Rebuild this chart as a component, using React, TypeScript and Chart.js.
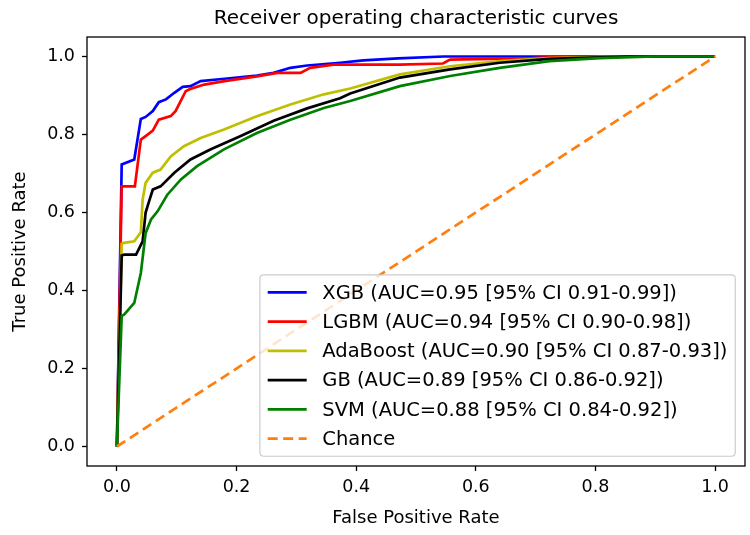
import React, { useEffect, useRef } from "react";
import { Chart, registerables } from "chart.js";

Chart.register(...registerables);

const FONT = '"DejaVu Sans", sans-serif';

const chartTitle = "Receiver operating characteristic curves";
const xAxisLabel = "False Positive Rate";
const yAxisLabel = "True Positive Rate";
const tickValues = [0, 0.2, 0.4, 0.6, 0.8, 1.0];

const seriesLabels = [
  "XGB (AUC=0.95 [95% CI 0.91-0.99])",
  "LGBM (AUC=0.94 [95% CI 0.90-0.98])",
  "AdaBoost (AUC=0.90 [95% CI 0.87-0.93])",
  "GB (AUC=0.89 [95% CI 0.86-0.92])",
  "SVM (AUC=0.88 [95% CI 0.84-0.92])",
];
const chanceLabel = "Chance";
const seriesColors = ["#0000ff", "#ff0000", "#bfbf00", "#000000", "#008000"];
const chanceColor = "#ff7f0e";

const xgbFpr = [0, 0.008, 0.029, 0.04, 0.048, 0.06, 0.07, 0.082, 0.096, 0.11, 0.123, 0.14, 0.18, 0.234, 0.262, 0.29, 0.318, 0.373, 0.412, 0.47, 0.546, 0.65, 0.8, 1.0];
const xgbTpr = [0, 0.723, 0.736, 0.84, 0.845, 0.86, 0.883, 0.89, 0.907, 0.922, 0.924, 0.937, 0.943, 0.951, 0.958, 0.971, 0.977, 0.984, 0.99, 0.995, 1.0, 1.0, 1.0, 1.0];

const lgbmFpr = [0, 0.008, 0.03, 0.04, 0.048, 0.06, 0.07, 0.09, 0.098, 0.115, 0.123, 0.146, 0.18, 0.234, 0.268, 0.307, 0.323, 0.362, 0.473, 0.545, 0.557, 0.695, 0.75, 1.0];
const lgbmTpr = [0, 0.667, 0.667, 0.787, 0.796, 0.81, 0.838, 0.847, 0.86, 0.911, 0.917, 0.928, 0.937, 0.949, 0.958, 0.958, 0.971, 0.979, 0.979, 0.982, 0.992, 0.996, 1.0, 1.0];

const adaFpr = [0, 0.008, 0.012, 0.029, 0.04, 0.043, 0.048, 0.06, 0.073, 0.09, 0.112, 0.14, 0.179, 0.234, 0.29, 0.346, 0.39, 0.473, 0.557, 0.64, 0.723, 0.85, 1.0];
const adaTpr = [0, 0.52, 0.522, 0.526, 0.549, 0.633, 0.676, 0.702, 0.71, 0.744, 0.77, 0.791, 0.813, 0.847, 0.877, 0.903, 0.918, 0.954, 0.975, 0.988, 0.996, 1.0, 1.0];

const gbFpr = [0, 0.008, 0.012, 0.032, 0.043, 0.048, 0.054, 0.06, 0.073, 0.096, 0.123, 0.157, 0.207, 0.262, 0.318, 0.373, 0.39, 0.473, 0.557, 0.64, 0.723, 0.85, 1.0];
const gbTpr = [0, 0.49, 0.492, 0.492, 0.526, 0.6, 0.63, 0.659, 0.667, 0.702, 0.736, 0.762, 0.796, 0.835, 0.867, 0.893, 0.905, 0.946, 0.967, 0.984, 0.994, 1.0, 1.0];

const svmFpr = [0, 0.008, 0.012, 0.029, 0.04, 0.048, 0.057, 0.068, 0.084, 0.107, 0.134, 0.179, 0.234, 0.29, 0.346, 0.39, 0.473, 0.557, 0.64, 0.723, 0.807, 0.9, 1.0];
const svmTpr = [0, 0.335, 0.338, 0.368, 0.445, 0.547, 0.582, 0.603, 0.645, 0.685, 0.719, 0.762, 0.804, 0.838, 0.868, 0.886, 0.924, 0.95, 0.971, 0.988, 0.996, 1.0, 1.0];

const chanceFpr = [0, 1];
const chanceTpr = [0, 1];

const seriesFpr = [xgbFpr, lgbmFpr, adaFpr, gbFpr, svmFpr];
const seriesTpr = [xgbTpr, lgbmTpr, adaTpr, gbTpr, svmTpr];

const toPoints = (xs: number[], ys: number[]) => xs.map((x, i) => ({ x, y: ys[i] }));

const overlayPlugin = {
  id: "overlay",
  afterDatasetsDraw(chart: any) {
    const { ctx, chartArea: a } = chart;
    ctx.save();
    // frame
    ctx.strokeStyle = "#000";
    ctx.lineWidth = 1.3;
    ctx.setLineDash([]);
    ctx.strokeRect(a.left, a.top, a.right - a.left, a.bottom - a.top);

    // legend
    const fs = 19.5;
    ctx.font = `${fs}px ${FONT}`;
    const ds = chart.data.datasets;
    const maxW = Math.max(...ds.map((d: any) => ctx.measureText(d.label).width));
    const pad = 0.4 * fs;
    const handle = 2 * fs;
    const gap = 0.8 * fs;
    const rowH = 1.5 * fs;
    const axPad = 0.5 * fs;
    const w = pad * 2 + handle + gap + maxW;
    const h = pad * 2 + ds.length * rowH - 0.5 * fs;
    const right = a.right - axPad;
    const bottom = a.bottom - axPad;
    const left = right - w;
    const top = bottom - h;
    const r = 4;
    ctx.beginPath();
    ctx.moveTo(left + r, top);
    ctx.lineTo(right - r, top);
    ctx.quadraticCurveTo(right, top, right, top + r);
    ctx.lineTo(right, bottom - r);
    ctx.quadraticCurveTo(right, bottom, right - r, bottom);
    ctx.lineTo(left + r, bottom);
    ctx.quadraticCurveTo(left, bottom, left, bottom - r);
    ctx.lineTo(left, top + r);
    ctx.quadraticCurveTo(left, top, left + r, top);
    ctx.closePath();
    ctx.fillStyle = "rgba(255,255,255,0.8)";
    ctx.fill();
    ctx.strokeStyle = "#cccccc";
    ctx.lineWidth = 1.2;
    ctx.stroke();

    ds.forEach((d: any, i: number) => {
      const cy = top + pad + fs / 2 + i * rowH;
      ctx.beginPath();
      ctx.setLineDash(d.borderDash || []);
      ctx.strokeStyle = d.borderColor;
      ctx.lineWidth = d.borderWidth;
      ctx.moveTo(left + pad, cy);
      ctx.lineTo(left + pad + handle, cy);
      ctx.stroke();
      ctx.setLineDash([]);
      ctx.fillStyle = "#000";
      ctx.textAlign = "left";
      ctx.textBaseline = "middle";
      ctx.fillText(d.label, left + pad + handle + gap, cy + 1);
    });

    // title
    ctx.font = `20px ${FONT}`;
    ctx.fillStyle = "#000";
    ctx.textAlign = "center";
    ctx.textBaseline = "alphabetic";
    ctx.fillText(chartTitle, (a.left + a.right) / 2, 24);
    ctx.restore();
  },
};

export default function App() {
  const canvasRef = useRef<HTMLCanvasElement | null>(null);

  useEffect(() => {
    document.body.style.margin = "0";
    const canvas = canvasRef.current;
    if (!canvas) return;

    const datasets: any[] = seriesLabels.map((label, i) => ({
      label,
      data: toPoints(seriesFpr[i], seriesTpr[i]),
      borderColor: seriesColors[i],
      backgroundColor: seriesColors[i],
      borderWidth: 2.7,
      pointRadius: 0,
      tension: 0,
      fill: false,
      order: 10 - i,
    }));
    datasets.push({
      label: chanceLabel,
      data: toPoints(chanceFpr, chanceTpr),
      borderColor: chanceColor,
      backgroundColor: chanceColor,
      borderWidth: 2.7,
      borderDash: [10, 5.5],
      pointRadius: 0,
      tension: 0,
      fill: false,
      order: 1,
    });

    const tickFont = { family: FONT, size: 17.5 };
    const labelFont = { family: FONT, size: 18 };

    const chart = new Chart(canvas, {
      type: "line",
      data: { datasets },
      options: {
        responsive: false,
        animation: false,
        devicePixelRatio: 1,
        layout: { padding: { top: 37, right: 5, left: 0, bottom: 0 } },
        plugins: {
          legend: { display: false },
          tooltip: { enabled: false },
          title: { display: false },
        },
        scales: {
          x: {
            type: "linear",
            min: -0.05,
            max: 1.05,
            afterFit: (s: any) => {
              s.height = 69;
            },
            afterBuildTicks: (s: any) => {
              s.ticks = tickValues.map((v) => ({ value: v }));
            },
            ticks: {
              callback: (v: any) => Number(v).toFixed(1),
              font: tickFont,
              color: "#000",
              padding: 6,
              maxRotation: 0,
              autoSkip: false,
            },
            grid: {
              drawOnChartArea: false,
              drawTicks: true,
              tickLength: 5,
              tickColor: "#000",
              tickWidth: 1.3,
            },
            border: { display: false },
            title: {
              display: true,
              text: xAxisLabel,
              font: labelFont,
              color: "#000",
              padding: { top: 0, bottom: 6 },
            },
          },
          y: {
            type: "linear",
            min: -0.05,
            max: 1.05,
            afterFit: (s: any) => {
              s.width = 87;
            },
            afterBuildTicks: (s: any) => {
              s.ticks = tickValues.map((v) => ({ value: v }));
            },
            ticks: {
              callback: (v: any) => Number(v).toFixed(1),
              font: tickFont,
              color: "#000",
              padding: 7,
              autoSkip: false,
            },
            grid: {
              drawOnChartArea: false,
              drawTicks: true,
              tickLength: 5,
              tickColor: "#000",
              tickWidth: 1.3,
            },
            border: { display: false },
            title: {
              display: true,
              text: yAxisLabel,
              font: labelFont,
              color: "#000",
              padding: { top: 10, bottom: 0 },
            },
          },
        },
      } as any,
      plugins: [overlayPlugin],
    });

    return () => {
      chart.destroy();
    };
  }, []);

  return (
    <div style={{ width: 750, height: 535, background: "#fff" }}>
      <canvas ref={canvasRef} width={750} height={535} style={{ width: 750, height: 535, display: "block" }} />
    </div>
  );
}
